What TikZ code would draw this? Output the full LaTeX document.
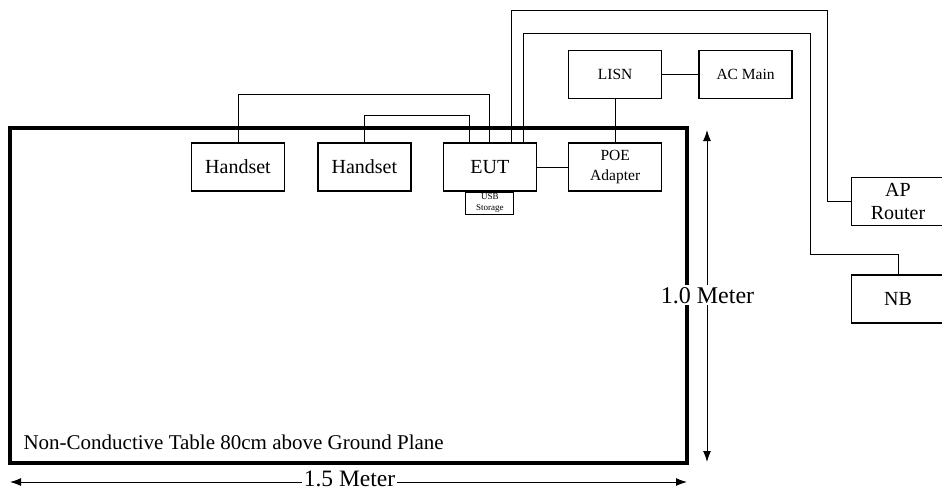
\documentclass[tikz,border=0pt]{standalone}
\usepackage{fontspec}
\setmainfont{Liberation Serif}
\usetikzlibrary{positioning,arrows.meta}

\begin{document}
\begin{tikzpicture}[x=1pt, y=-1pt,
        box/.style={rectangle, draw, line width=1.4pt, minimum width=93pt, minimum height=48pt, inner sep=0pt, align=center, font=\fontsize{20}{23}\selectfont},
        smallbox/.style={box, font=\fontsize{15.5}{20}\selectfont},
        usbbox/.style={rectangle, draw, line width=1.2pt, minimum width=48pt, minimum height=22pt, inner sep=0pt, align=center, font=\fontsize{9}{11}\selectfont},
        tablebox/.style={rectangle, draw, line width=3.5pt, inner sep=0pt},
        cable/.style={line width=1pt},
        dim/.style={{Latex[length=11pt,width=8pt]}-{Latex[length=11pt,width=8pt]}, line width=1pt},
        dimlabel/.style={fill=white, inner sep=2pt, font=\fontsize{24}{28}\selectfont}
    ]
        \useasboundingbox (0,0) rectangle (942,490);
        \clip (0,0) rectangle (942,490);
        % Table
        \node[tablebox, minimum width=677pt, minimum height=335pt] (table) at (348.5,295.5) {};
        \node[anchor=base west, font=\fontsize{21}{24}\selectfont] (tablelabel) at (20,449) {Non-Conductive Table 80cm above Ground Plane};
        % Devices on the table
        \node[box] (hs1) at (238,167) {Handset};
        \node[box, right=32pt of hs1] (hs2) {Handset};
        \node[box, right=31pt of hs2] (eut) {EUT};
        \node[usbbox, below=0pt of eut] (usb) {USB\\Storage};
        \node[smallbox, right=31pt of eut] (poe) {POE\\Adapter};
        % Power
        \node[smallbox, above=43pt of poe] (lisn) {LISN};
        \node[smallbox, right=36pt of lisn] (acmain) {AC Main};
        % Remote side
        \node[box] (ap) at (898,201.5) {AP\\Router};
        \node[box, below=48pt of ap] (nb) {NB};
        % Cable routing
        \coordinate (apbend) at (827,10);
        \coordinate (nbbend1) at (810,33);
        \coordinate (nbbend2) at (810,254);
        % Cables
        \draw[cable] (hs1.north) -- ++(0,-48) -| (eut.north);
        \draw[cable] (hs2.north) -- ++(0,-27) -| ([xshift=-20pt]eut.north);
        \draw[cable] ([xshift=22pt]eut.north) |- (apbend) |- (ap.west);
        \draw[cable] ([xshift=34pt]eut.north) |- (nbbend1) -- (nbbend2) -| (nb.north);
        \draw[cable] (eut) -- (poe);
        \draw[cable] (lisn) -- (poe);
        \draw[cable] (lisn) -- (acmain);
        % Dimensions
        \coordinate (vtop) at (707,130);
        \coordinate (vbot) at (707,462);
        \coordinate (hleft) at (10,482);
        \coordinate (hright) at (687,482);
        \draw[dim] (vtop) -- (vbot);
        \draw[dim] (hleft) -- (hright);
        \node[dimlabel, anchor=base] (vlabel) at (707.5,303) {1.0 Meter};
        \node[dimlabel, anchor=base, inner ysep=0pt, font=\fontsize{23.5}{28}\selectfont] (hlabel) at (349.5,486) {1.5 Meter};
    \end{tikzpicture}
\end{document}
